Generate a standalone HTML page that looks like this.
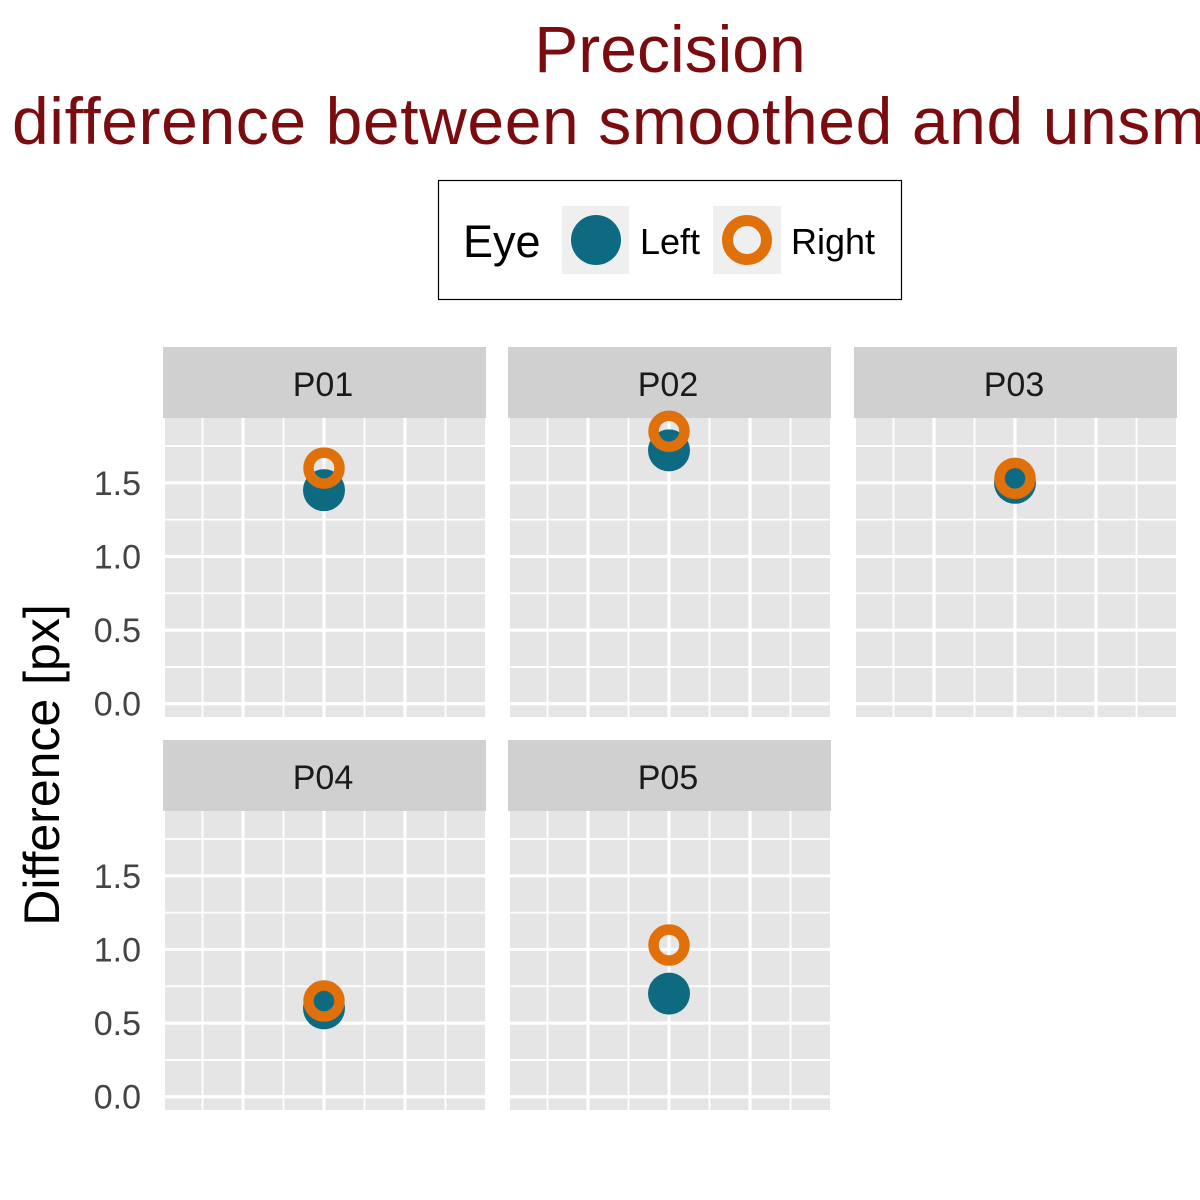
<!DOCTYPE html>
<html><head><meta charset="utf-8"><style>
html,body{margin:0;padding:0;background:#fff;}
svg{display:block;font-family:"Liberation Sans",Arial,sans-serif;}
</style></head><body>
<svg id="chart" width="1200" height="1200" viewBox="0 0 1200 1200">
  <text x="670" y="72" text-anchor="middle" font-size="66" fill="#7A0C10">Precision</text>
  <text x="12" y="144" font-size="66" letter-spacing="0.6" fill="#7A0C10">difference between smoothed and unsmoothed</text>
  <g>
    <rect x="438.5" y="180.5" width="463" height="119" fill="#fff" stroke="#000" stroke-width="1.2"/>
    <text x="463" y="257" font-size="45" fill="#000">Eye</text>
    <g>
      <rect x="562" y="206" width="67" height="68" fill="#efefef"/>
      <circle cx="596" cy="240" r="25" fill="#0E6A80"/>
      <text x="640" y="254" font-size="36" fill="#000">Left</text>
    </g>
    <g>
      <rect x="713" y="206" width="68" height="68" fill="#efefef"/>
      <circle cx="747" cy="240" r="19.5" fill="#efefef" stroke="#E07009" stroke-width="11"/>
      <text x="791" y="254" font-size="36" fill="#000">Right</text>
    </g>
  </g>
  <text transform="translate(59,765) rotate(-90)" text-anchor="middle" font-size="50" fill="#000">Difference [px]</text>
  <g id="panels"></g>
</svg>
<script>
const participants = ["P01","P02","P03","P04","P05"];
const leftValues = [1.45, 1.72, 1.50, 0.60, 0.70];
const rightValues = [1.60, 1.85, 1.53, 0.65, 1.03];
const yTicks = [0.0, 0.5, 1.0, 1.5];
const yTickLabels = ["0.0","0.5","1.0","1.5"];

const NS = "http://www.w3.org/2000/svg";
const root = document.getElementById("panels");
const colX = [165, 510, 856];
const rowY = [418, 811];
const PW = 320, PH = 299;
const yMin = -0.09, yMax = 1.94;
function yScale(v, top){ return top + PH - (v - yMin) / (yMax - yMin) * PH; }
function xScale(left){ return left + PW / 2 - 1; }
function mk(tag, attrs, parent){
  const e = document.createElementNS(NS, tag);
  for (const k in attrs) e.setAttribute(k, attrs[k]);
  parent.appendChild(e);
  return e;
}
participants.forEach((p, i) => {
  const col = i % 3, row = Math.floor(i / 3);
  const L = colX[col], T = rowY[row];
  const g = mk("g", {}, root);
  
  
  const strip = mk("rect", {x: L - 2, y: T - 71, width: PW + 3, height: 71, fill: "#d0d0d0"}, g);
  
  
  const st = mk("text", {x: L + PW / 2 - 2, y: T - 22, "text-anchor": "middle", "font-size": "34", fill: "#1a1a1a"}, g);
  st.textContent = p;
  
  
  const bg = mk("rect", {x: L, y: T, width: PW, height: PH, fill: "#e5e5e5"}, g);
  
  
  for (let v = 0; v <= 1.75001; v += 0.25) {
    const major = Math.abs(v * 2 - Math.round(v * 2)) < 1e-6;
    const y = yScale(v, T);
    const gl = mk("line", {x1: L, x2: L + PW, y1: y, y2: y, stroke: "#fff", "stroke-width": major ? 3.2 : 1.8}, g);
    
    
  }
  for (let k = -4; k <= 3; k++) {
    const x = xScale(L) + k * 40.5;
    if (x <= L || x >= L + PW) continue;
    const major = (k % 2 === 0);
    const vl = mk("line", {x1: x, x2: x, y1: T, y2: T + PH, stroke: "#fff", "stroke-width": major ? 3.2 : 1.8}, g);
    
    
  }
  if (col === 0) {
    yTicks.forEach((t, j) => {
      const tl = mk("text", {x: 141, y: yScale(t, T) + 12, "text-anchor": "end", "font-size": "34", fill: "#444"}, root);
      tl.textContent = yTickLabels[j];
      
      
    });
  }
  const lp = mk("circle", {cx: xScale(L), cy: yScale(leftValues[i], T), r: 21, fill: "#0E6A80"}, g);
  
  
  const rp = mk("circle", {cx: xScale(L), cy: yScale(rightValues[i], T), r: 15.5, fill: "none", stroke: "#E07009", "stroke-width": 10.5}, g);
  
  
});
</script>
</body></html>
